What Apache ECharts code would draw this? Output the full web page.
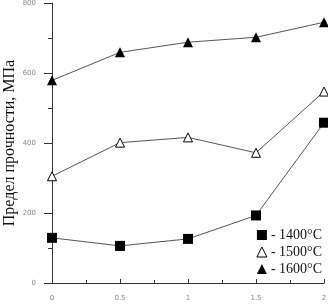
<!DOCTYPE html>
<html><head><meta charset="utf-8">
<script src="https://cdn.jsdelivr.net/npm/echarts@6/dist/echarts.min.js"></script>
<style>html,body{margin:0;padding:0;background:#fff}#c{width:328px;height:304px}</style>
</head><body><div id="c"></div>
<script>
const xValues = [0, 0.5, 1, 1.5, 2];
const s1400 = [129, 106, 126, 193, 458];
const s1500 = [305, 401, 416, 372, 547];
const s1600 = [579, 659, 688, 702, 745];
const seriesNames = ['1400°C', '1500°C', '1600°C'];
const yTitle = 'Предел прочности, МПа';

const pair = a => xValues.map((x, i) => [x, a[i]]);
const chart = echarts.init(document.getElementById('c'));
const lineStyle = {color: '#555', width: 1};
chart.setOption({
  animation: false,
  backgroundColor: '#fff',
  grid: {left: 52, right: 4, top: 3, bottom: 21, containLabel: false, outerBoundsMode: 'none'},
  xAxis: {
    type: 'value', min: 0, max: 2, interval: 0.5,
    axisLine: {lineStyle: {color: '#333', width: 1}},
    axisTick: {inside: true, length: 4, lineStyle: {color: '#333'}},
    minorTick: {show: true, splitNumber: 2, length: 3, lineStyle: {color: '#333'}},
    splitLine: {show: false},
    axisLabel: {color: '#888', fontSize: 7, fontFamily: 'DejaVu Sans', margin: 12}
  },
  yAxis: {
    type: 'value', min: 0, max: 800, interval: 200,
    name: yTitle, nameLocation: 'middle', nameGap: 34, nameMoveOverlap: false,
    nameTextStyle: {fontFamily: 'Liberation Serif', fontSize: 16, color: '#111'},
    axisLine: {show: true, lineStyle: {color: '#333', width: 1}},
    axisTick: {length: 8, lineStyle: {color: '#333'}},
    minorTick: {show: true, splitNumber: 2, length: 4, lineStyle: {color: '#333'}},
    splitLine: {show: false},
    axisLabel: {color: '#888', fontSize: 7, fontFamily: 'DejaVu Sans', margin: 16}
  },
  legend: {
    orient: 'vertical', right: 1, bottom: 23, itemGap: 3, padding: 5,
    itemWidth: 10, itemHeight: 10,
    textStyle: {fontFamily: 'Liberation Serif', fontSize: 14, color: '#111', padding: [0,0,0,-1]},
    formatter: n => '- ' + n,
    data: [
      {name: seriesNames[0], icon: 'rect', itemStyle: {color: '#000', borderWidth: 0}},
      {name: seriesNames[1], icon: 'triangle', itemStyle: {color: '#fff', borderColor: '#000', borderWidth: 1}},
      {name: seriesNames[2], icon: 'triangle', itemStyle: {color: '#000', borderWidth: 0}}
    ]
  },
  series: [
    {name: seriesNames[0], type: 'line', data: pair(s1400), symbol: 'rect', symbolSize: 10,
     itemStyle: {color: '#000'}, lineStyle},
    {name: seriesNames[1], type: 'line', data: pair(s1500), symbol: 'triangle', symbolSize: 9,
     itemStyle: {color: '#fff', borderColor: '#000', borderWidth: 1}, lineStyle},
    {name: seriesNames[2], type: 'line', data: pair(s1600), symbol: 'triangle', symbolSize: 10,
     itemStyle: {color: '#000'}, lineStyle}
  ]
});
</script></body></html>
